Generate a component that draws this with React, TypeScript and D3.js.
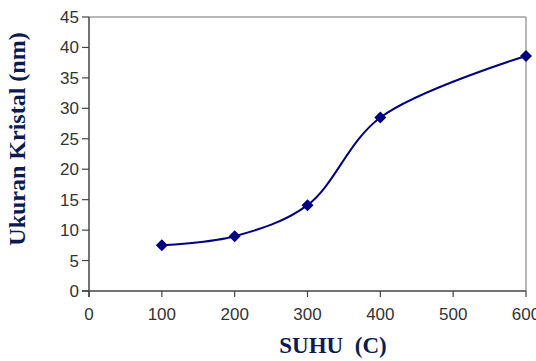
import * as d3 from 'd3';
import React from 'react';

const suhu = [100, 200, 300, 400, 600];
const ukuran = [7.5, 9.0, 14.1, 28.5, 38.6];
const xTicks = [0, 100, 200, 300, 400, 500, 600];
const yTicks = [0, 5, 10, 15, 20, 25, 30, 35, 40, 45];

export default function App() {
  const w = 536;
  const h = 361;
  const left = 89;
  const right = 526;
  const top = 17;
  const bottom = 291;

  const xScale = d3.scaleLinear().domain([0, 600]).range([left, right]);
  const yScale = d3.scaleLinear().domain([0, 45]).range([bottom, top]);

  const line = d3
    .line<number>()
    .x((_, i) => xScale(suhu[i]))
    .y((d) => yScale(d))
    .curve(d3.curveCatmullRom.alpha(0.5));

  const tickFont = { fontFamily: 'Arial, "Liberation Sans", sans-serif', fontSize: 17, fill: '#333' };
  const navy = '#000080';

  return (
    <svg width={w} height={h} style={{ position: 'absolute', left: 0, top: 0, background: 'white' }}>
      <line x1={left} x2={right} y1={top} y2={top} stroke='#a0a0a0' strokeWidth={1.5} />
      <line x1={right} x2={right} y1={top} y2={bottom} stroke='#a0a0a0' strokeWidth={1.5} />
      <line x1={left} x2={left} y1={top} y2={bottom + 6} stroke='#444' strokeWidth={1.5} />
      <line x1={left - 7} x2={right} y1={bottom} y2={bottom} stroke='#444' strokeWidth={1.5} />
      {yTicks.map((t) => (
        <g key={'y' + t}>
          <line x1={left - 7} x2={left} y1={yScale(t)} y2={yScale(t)} stroke='#444' strokeWidth={1.2} />
          <text x={left - 10} y={yScale(t)} dy='0.35em' textAnchor='end' style={tickFont}>
            {t}
          </text>
        </g>
      ))}
      {xTicks.map((t) => (
        <g key={'x' + t}>
          <line x1={xScale(t)} x2={xScale(t)} y1={bottom} y2={bottom + 6} stroke='#444' strokeWidth={1.2} />
          <text x={xScale(t)} y={bottom + 29} textAnchor='middle' style={tickFont}>
            {t}
          </text>
        </g>
      ))}
      <path d={line(ukuran) ?? ''} fill='none' stroke={navy} strokeWidth={2} />
      {ukuran.map((v, i) => {
        const cx = xScale(suhu[i]);
        const cy = yScale(v);
        return <path key={i} d={`M${cx},${cy - 6}L${cx + 6},${cy}L${cx},${cy + 6}L${cx - 6},${cy}Z`} fill={navy} />;
      })}
      <text
        transform={`translate(25, 139) rotate(-90)`}
        textAnchor='middle'
        style={{ fontFamily: '"Liberation Serif", "Times New Roman", serif', fontWeight: 'bold', fontSize: 24, fill: '#0b1a4f' }}>
        Ukuran Kristal (nm)
      </text>
      <text
        x={333}
        y={353}
        textAnchor='middle'
        xmlSpace='preserve'
        style={{ fontFamily: '"Liberation Serif", "Times New Roman", serif', fontWeight: 'bold', fontSize: 23, fill: '#0b1a4f', whiteSpace: 'pre' }}>
        {'SUHU  (C)'}
      </text>
    </svg>
  );
}
